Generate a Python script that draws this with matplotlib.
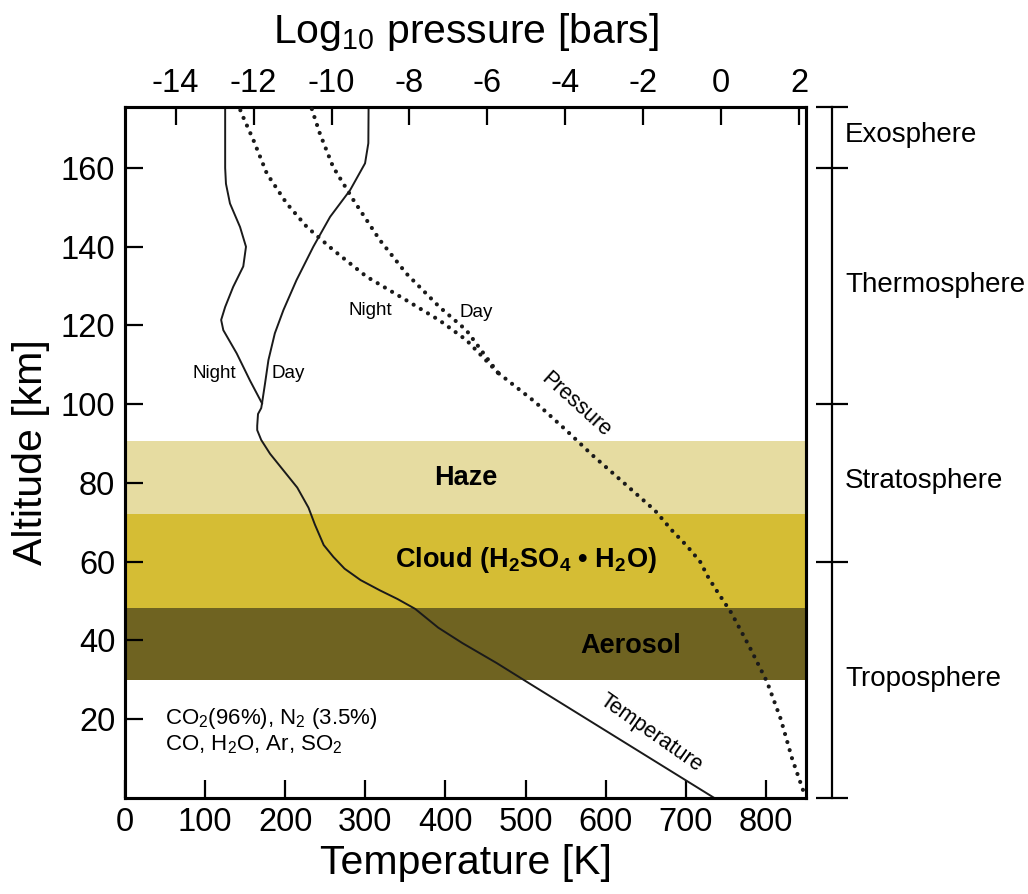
import matplotlib
matplotlib.use("Agg")
import matplotlib.pyplot as plt
import matplotlib.transforms as mtransforms

plt.rcParams['font.family'] = ['Liberation Sans', 'DejaVu Sans']
plt.rcParams['mathtext.fontset'] = 'custom'
plt.rcParams['mathtext.rm'] = 'Liberation Sans'
plt.rcParams['mathtext.it'] = 'Liberation Sans:italic'
plt.rcParams['mathtext.bf'] = 'Liberation Sans:bold'

# ---- temperature profiles (K, km) ----
temp_lower_T = [735, 620, 505, 464, 421, 391, 362, 340, 318, 294, 274, 260, 248, 237, 229, 215, 198, 181, 170, 165, 165, 166, 170, 171]
temp_lower_z = [0, 14.5, 29.0, 34.2, 39.3, 43.2, 48.0, 50.5, 52.7, 55.3, 58.2, 61.2, 64.2, 69.4, 73.7, 78.8, 83.1, 87.4, 90.9, 93.4, 94.5, 97.5, 99.0, 100.2]

temp_day_T = [171, 174.8, 179, 187, 197.7, 214, 235, 256, 281, 299.6, 303.7, 304]
temp_day_z = [100.2, 105.3, 111.2, 118, 123.9, 131.5, 140, 147.6, 154.4, 161.2, 166.3, 175.5]

temp_night_T = [171, 156, 139.4, 122.7, 120, 125, 135, 147.6, 151, 143.6, 131, 126, 125, 125]
temp_night_z = [100.2, 106, 112.9, 118.8, 121.4, 124.7, 129.8, 135, 140, 145, 151, 156, 160, 175.5]

# ---- pressure profiles (log10 bar, km) ----
pres_lower_logp = [2.1, 1.82, 1.53, 1.18, 0.72, 0.26, -0.14, -0.33, -0.54, -0.88, -1.25, -1.70, -2.84, -3.30, -3.98, -4.78, -5.73]
pres_lower_z = [2, 10, 20, 29.4, 38.5, 47, 53, 56, 60, 64, 67.8, 73, 83, 87, 93.4, 100.6, 108]

pres_day_logp = [-5.73, -6.54, -7.23, -8.08, -8.76, -9.44, -9.96, -10.30, -10.47, -10.52]
pres_day_z = [108, 118.8, 124.7, 133.2, 141.7, 151.9, 160.3, 168.8, 173.9, 175.5]

pres_night_logp = [-5.73, -6.54, -7.23, -8.08, -9.10, -9.96, -10.63, -11.15, -11.66, -12.0, -12.31, -12.37]
pres_night_z = [108, 116.3, 121.3, 126.4, 132.4, 139.2, 145, 151, 158.6, 167, 173.9, 175.5]

# ---- layers (km) ----
band_names = ['Haze', 'Cloud (H$_\\mathbf{2}$SO$_\\mathbf{4}$ • H$_\\mathbf{2}$O)', 'Aerosol']
band_bottom = [72.1, 48.2, 29.9]
band_top = [90.6, 72.1, 48.2]
band_colors = ['#e6dca1', '#d5bd34', '#6f6321']

region_names = ['Exosphere', 'Thermosphere', 'Stratosphere', 'Troposphere']
region_label_z = [168.4, 130.3, 80.5, 30.2]
region_bounds = [0, 60, 100, 160, 175.5]

T_ticks = [0, 100, 200, 300, 400, 500, 600, 700, 800]
z_ticks = [20, 40, 60, 80, 100, 120, 140, 160]
logp_ticks = [-14, -12, -10, -8, -6, -4, -2, 0, 2]

fig = plt.figure(figsize=(10.28, 8.94), dpi=100)
ax = fig.add_axes([0.1216, 0.1077, 0.6625, 0.7726])
ax.set_xlim(0, 850)
ax.set_ylim(0, 175.5)

for b0, b1, c in zip(band_bottom, band_top, band_colors):
    ax.axhspan(b0, b1, color=c, lw=0, zorder=0)

line_kw = dict(color='#1a1a1a', lw=1.4, zorder=3, solid_joinstyle='round')
ax.plot(temp_lower_T, temp_lower_z, **line_kw)
ax.plot(temp_day_T, temp_day_z, **line_kw)
ax.plot(temp_night_T, temp_night_z, **line_kw)

axp = ax.twiny()
axp.set_xlim(-15.3, 2.18)
dot_kw = dict(color='#1a1a1a', lw=3.0, linestyle=(0, (0.01, 2.0)),
              dash_capstyle='round', zorder=3)
axp.plot(pres_lower_logp, pres_lower_z, **dot_kw)
axp.plot(pres_day_logp, pres_day_z, **dot_kw)
axp.plot(pres_night_logp, pres_night_z, **dot_kw)

for a in (ax, axp):
    for s in a.spines.values():
        s.set_linewidth(2.2)

ax.set_xticks(T_ticks)
ax.set_yticks(z_ticks)
ax.tick_params(axis='both', direction='in', length=13, width=1.6, labelsize=23.5)
ax.tick_params(axis='x', pad=7)
ax.tick_params(axis='y', pad=7)
axp.set_xticks(logp_ticks)
axp.set_xticklabels([str(v) for v in logp_ticks])
axp.tick_params(axis='x', direction='in', length=13, width=1.6, labelsize=23.5, pad=6)

ax.set_xlabel('Temperature [K]', fontsize=29.5, labelpad=4)
ax.set_ylabel('Altitude [km]', fontsize=29.5, labelpad=8)
axp.set_xlabel('Log$_{10}$ pressure [bars]', fontsize=29.5, labelpad=18)

# layer labels
ax.text(425.6, 81.2, band_names[0], fontsize=19.5, fontweight='bold', ha='center', va='center', zorder=4)
ax.text(500.5, 60.4, band_names[1], fontsize=19.5, fontweight='bold', ha='center', va='center', zorder=4)
ax.text(631.6, 38.5, band_names[2], fontsize=19.5, fontweight='bold', ha='center', va='center', zorder=4)

small = 13.5
ax.text(111, 107.9, 'Night', fontsize=small, ha='center', va='center')
ax.text(203.5, 107.9, 'Day', fontsize=small, ha='center', va='center')
ax.text(305.8, 123.7, 'Night', fontsize=small, ha='center', va='center')
ax.text(438, 123.4, 'Day', fontsize=small, ha='center', va='center')
ax.text(563, 99.8, 'Pressure', fontsize=15.5, ha='center', va='center', rotation=-42,
        rotation_mode='anchor')
ax.text(656.5, 16.4, 'Temperature', fontsize=15.5, ha='center', va='center', rotation=-35,
        rotation_mode='anchor')
ax.text(50, 20.2, 'CO$_2$(96%), N$_2$ (3.5%)', fontsize=16, ha='left', va='center')
ax.text(50, 13.4, 'CO, H$_2$O, Ar, SO$_2$', fontsize=16, ha='left', va='center')

# atmospheric region bracket on the right
axr = fig.add_axes([0.8093, 0.1077, 0.001, 0.7726])
axr.set_ylim(0, 175.5)
axr.set_xlim(0, 1)
for side in ('top', 'bottom', 'right'):
    axr.spines[side].set_visible(False)
axr.spines['left'].set_linewidth(1.6)
axr.set_xticks([])
axr.set_yticks(region_bounds)
axr.set_yticklabels([])
axr.tick_params(axis='y', direction='inout', length=23, width=1.6)
axr.patch.set_visible(False)
trans = mtransforms.blended_transform_factory(fig.transFigure, ax.transData)
for name, z in zip(region_names, region_label_z):
    ax.text(0.822, z, name, transform=trans, fontsize=20, ha='left', va='center', clip_on=False)

fig.savefig('out.png', dpi=100)
